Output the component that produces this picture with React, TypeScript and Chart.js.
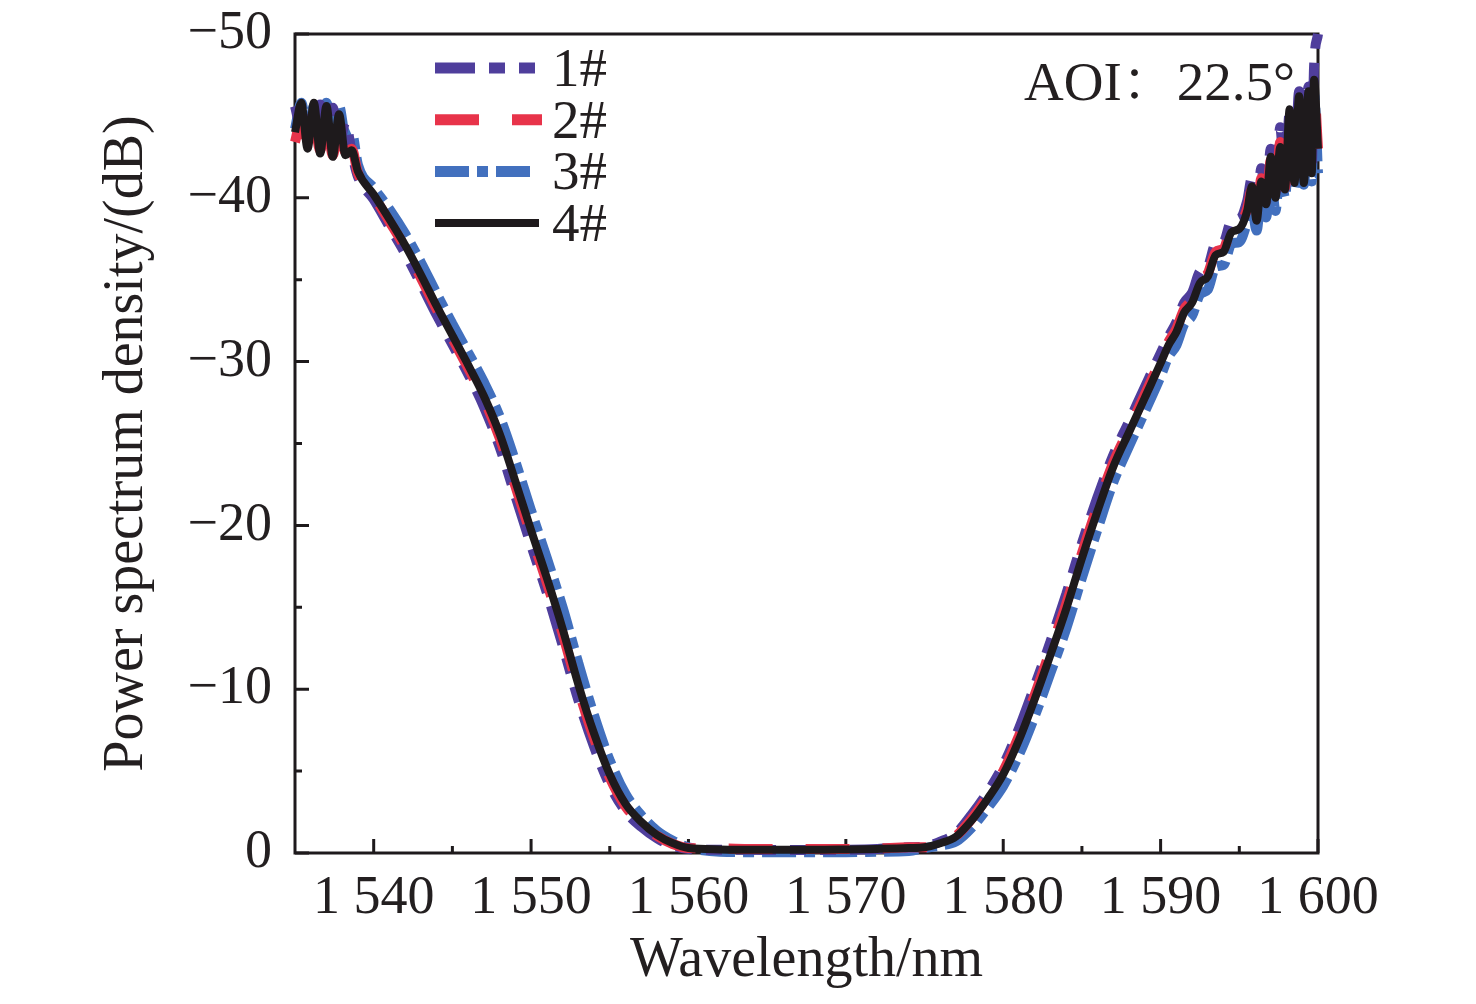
import React, { useEffect, useRef } from 'react';
import { Chart, registerables } from 'chart.js';

Chart.register(...registerables);

// ---------------- data ----------------
const wavelengths = [
  1535.0, 1535.4, 1535.8, 1536.2, 1536.6, 1537.0, 1537.4, 1537.8, 1538.2, 1538.6,
  1539, 1540, 1541, 1542, 1543, 1544, 1545, 1546, 1547, 1548, 1549, 1550,
  1551, 1552, 1553, 1554, 1555, 1556, 1557, 1558, 1559, 1560,
  1562, 1564, 1566, 1568, 1570, 1572, 1574,
  1575, 1576, 1577, 1578, 1579, 1580, 1581, 1582, 1583, 1584, 1585,
  1586, 1587, 1588, 1589, 1590, 1590.5, 1591, 1591.5, 1592, 1592.5, 1593, 1593.5,
  1594, 1594.5, 1595, 1595.5,
  1595.8, 1596.1, 1596.4, 1596.7, 1597.0, 1597.3, 1597.6, 1597.9, 1598.2,
  1598.5, 1598.8, 1599.1, 1599.4, 1599.6, 1599.75, 1600.0,
];

const sample1 = [
  -45.6, -44.2, -45.5, -43.4, -45.7, -43.0, -45.5, -43.2, -44.6, -42.8,
  -41.3, -39.9, -38.25, -36.6, -34.75, -32.85, -31.05, -29.25, -27.25, -24.8, -21.8, -18.8,
  -15.9, -12.7, -9.35, -6.5, -4.15, -2.55, -1.6, -0.9, -0.45, -0.25,
  -0.2, -0.2, -0.18, -0.18, -0.2, -0.25, -0.35,
  -0.4, -0.7, -1.2, -2.35, -3.7, -5.35, -7.6, -10.2, -12.9, -15.8, -18.9,
  -21.75, -24.3, -26.35, -28.45, -30.5, -31.5, -32.4, -33.6, -34.2, -35.5, -35.8, -37.2,
  -37.3, -38.6, -38.7, -39.8,
  -41.2, -39.2, -41.8, -39.8, -43.0, -40.3, -44.3, -40.8, -45.2,
  -41.2, -46.5, -41.4, -46.8, -42.0, -48.0, -50.0,
];

const sample2 = [
  -43.4, -44.8, -43.2, -44.6, -42.9, -44.9, -42.6, -44.5, -42.8, -43.0,
  -41.5, -40.1, -38.55, -36.95, -35.1, -33.2, -31.4, -29.6, -27.7, -25.35, -22.4, -19.4,
  -16.5, -13.4, -10.0, -7.0, -4.6, -2.85, -1.8, -1.05, -0.55, -0.3,
  -0.28, -0.25, -0.25, -0.25, -0.25, -0.28, -0.35,
  -0.35, -0.65, -1.05, -2.1, -3.45, -5.0, -7.15, -9.65, -12.4, -15.2, -18.3,
  -21.2, -23.85, -25.9, -28.0, -30.1, -31.2, -32.0, -33.2, -33.8, -35.0, -35.4, -36.7,
  -36.9, -38.1, -38.3, -39.35,
  -40.5, -38.8, -41.2, -39.5, -42.3, -40.0, -43.4, -40.6, -44.8,
  -41.0, -45.8, -41.2, -46.3, -42.0, -46.5, -43.0,
];

const sample3 = [
  -44.2, -45.8, -43.8, -45.6, -43.5, -45.8, -43.4, -45.6, -43.8, -44.0,
  -42.0, -40.6, -39.3, -37.8, -36.05, -34.15, -32.3, -30.55, -28.75, -26.65, -23.9, -20.9,
  -18.0, -15.0, -11.6, -8.4, -5.65, -3.6, -2.3, -1.35, -0.75, -0.35,
  -0.08, -0.05, -0.05, -0.05, -0.05, -0.08, -0.12,
  -0.3, -0.45, -0.7, -1.55, -2.75, -4.1, -6.0, -8.35, -11.0, -13.7, -16.8,
  -19.8, -22.65, -24.85, -26.95, -29.1, -30.3, -31.0, -32.3, -32.8, -34.1, -34.4, -35.8,
  -35.9, -37.2, -37.3, -38.5,
  -39.4, -38.0, -40.2, -38.8, -41.2, -39.2, -42.2, -40.0, -43.6,
  -40.6, -44.5, -40.8, -45.2, -41.0, -46.3, -41.5,
];

const sample4 = [
  -44.0, -45.8, -43.0, -45.8, -42.7, -45.6, -42.5, -45.1, -42.6, -42.9,
  -41.6, -40.2, -38.7, -37.1, -35.3, -33.4, -31.6, -29.8, -27.9, -25.6, -22.7, -19.7,
  -16.8, -13.7, -10.3, -7.3, -4.8, -3.0, -1.9, -1.1, -0.6, -0.3,
  -0.22, -0.2, -0.2, -0.2, -0.22, -0.25, -0.3,
  -0.35, -0.6, -1.0, -2.0, -3.3, -4.8, -6.9, -9.4, -12.1, -14.9, -18.0,
  -20.9, -23.6, -25.7, -27.8, -29.9, -31.0, -31.8, -33.0, -33.6, -34.8, -35.2, -36.5,
  -36.7, -37.9, -38.1, -39.2,
  -40.7, -38.6, -41.0, -39.6, -42.5, -40.0, -43.1, -40.5, -45.4,
  -40.9, -46.2, -40.9, -46.5, -41.5, -47.2, -43.0,
];

const seriesLabels = ['1#', '2#', '3#', '4#'];
const xTicks = [1540, 1550, 1560, 1570, 1580, 1590, 1600];
const xMinorTicks = [1545, 1555, 1565, 1575, 1585, 1595];
const yTicks = [0, -10, -20, -30, -40, -50];
const yMinorTicks = [-5, -15, -25, -35, -45];
const xTitle = 'Wavelength/nm';
const yTitle = 'Power spectrum density/(dB)';
const annotationText = 'AOI：22.5°';

// ---------------- styles ----------------
const FONT_FAMILY = '"Liberation Serif", "Times New Roman", "Noto Serif CJK SC", "Noto Sans CJK SC", serif';
const TEXT = '#231f20';
const AXIS = '#1e1a1c';
const COLORS = ['#4f3e9c', '#e8334a', '#4270be', '#1e1a1c'];
const DASHES: number[][] = [[40, 14, 16, 14, 16, 14], [44, 33], [34, 8, 11, 8], []];
const WIDTHS = [10, 10, 10, 8];
const LEGEND_WIDTHS = [11, 11, 11, 8];
const LEGEND_LENGTHS = [101, 107, 95, 104];
const ORDERS = [3, 2, 4, 1];

const fmtX = (v: number) => {
  const s = String(Math.round(v));
  return s.length > 3 ? s.slice(0, s.length - 3) + ' ' + s.slice(s.length - 3) : s;
};
const fmtY = (v: number) => (v < 0 ? '\u2212' + Math.abs(v) : String(v));

const framePlugin = {
  id: 'frameTicks',
  beforeDatasetsDraw(chart: any) {
    const { ctx, chartArea } = chart;
    const { left, right, top, bottom } = chartArea;
    const xs = chart.scales.x;
    const ys = chart.scales.y;
    ctx.save();
    ctx.strokeStyle = AXIS;
    ctx.lineWidth = 3;
    ctx.lineCap = 'butt';
    ctx.strokeRect(left, top, right - left, bottom - top);
    ctx.beginPath();
    xTicks.forEach((v) => {
      const p = xs.getPixelForValue(v);
      ctx.moveTo(p, bottom);
      ctx.lineTo(p, bottom - 14);
    });
    xMinorTicks.forEach((v) => {
      const p = xs.getPixelForValue(v);
      ctx.moveTo(p, bottom);
      ctx.lineTo(p, bottom - 7);
    });
    yTicks.forEach((v) => {
      const p = ys.getPixelForValue(v);
      ctx.moveTo(left, p);
      ctx.lineTo(left + 14, p);
    });
    yMinorTicks.forEach((v) => {
      const p = ys.getPixelForValue(v);
      ctx.moveTo(left, p);
      ctx.lineTo(left + 7, p);
    });
    ctx.stroke();
    ctx.restore();
  },
};

const legendPlugin = {
  id: 'customLegend',
  afterDraw(chart: any) {
    const { ctx, chartArea } = chart;
    const { left, right, top } = chartArea;
    ctx.save();
    seriesLabels.forEach((label, i) => {
      const y = top + 34 + i * 51.7;
      const x0 = left + 140;
      ctx.beginPath();
      ctx.setLineDash(DASHES[i]);
      ctx.lineCap = 'butt';
      ctx.strokeStyle = COLORS[i];
      ctx.lineWidth = LEGEND_WIDTHS[i];
      ctx.moveTo(x0, y);
      ctx.lineTo(x0 + LEGEND_LENGTHS[i], y);
      ctx.stroke();
      ctx.setLineDash([]);
      ctx.fillStyle = TEXT;
      ctx.font = `55px ${FONT_FAMILY}`;
      ctx.textAlign = 'left';
      ctx.textBaseline = 'alphabetic';
      ctx.fillText(label, left + 257, y + 18);
    });
    ctx.font = `55px ${FONT_FAMILY}`;
    ctx.textAlign = 'right';
    ctx.textBaseline = 'alphabetic';
    ctx.fillStyle = TEXT;
    ctx.fillText(annotationText, right - 23, top + 66);
    ctx.restore();
  },
};

const zeroPadding = (s: any) => {
  s.paddingTop = 0;
  s.paddingBottom = 0;
  s.paddingLeft = 0;
  s.paddingRight = 0;
};

export default function App() {
  const ref = useRef<HTMLCanvasElement | null>(null);

  useEffect(() => {
    if (!ref.current) return;
    const allSeries = [sample1, sample2, sample3, sample4];
    const datasets = allSeries.map((vals, i) => ({
      label: seriesLabels[i],
      data: wavelengths.map((w, k) => ({ x: w, y: vals[k] })),
      borderColor: COLORS[i],
      backgroundColor: COLORS[i],
      borderWidth: WIDTHS[i],
      borderDash: DASHES[i],
      borderCapStyle: 'butt' as const,
      borderJoinStyle: (i === 3 ? 'round' : 'bevel') as any,
      pointRadius: 0,
      fill: false,
      cubicInterpolationMode: 'monotone' as const,
      order: ORDERS[i],
      clip: false as any,
    }));

    const tickFont = { family: FONT_FAMILY, size: 54 };
    const titleFont = { family: FONT_FAMILY, size: 56 };

    const chart = new Chart(ref.current, {
      type: 'line',
      data: { datasets },
      plugins: [framePlugin, legendPlugin],
      options: {
        animation: false,
        responsive: true,
        maintainAspectRatio: false,
        devicePixelRatio: 1,
        layout: { padding: { top: 34, right: 158, bottom: 0, left: 0 } },
        plugins: {
          legend: { display: false },
          tooltip: { enabled: false },
        },
        scales: {
          x: {
            type: 'linear',
            min: 1535,
            max: 1600,
            afterBuildTicks: (s: any) => {
              s.ticks = xTicks.map((v) => ({ value: v }));
            },
            afterFit: (s: any) => {
              s.height = 151;
              zeroPadding(s);
            },
            grid: { display: false },
            border: { display: false },
            ticks: {
              padding: 5,
              color: TEXT,
              font: tickFont,
              maxRotation: 0,
              autoSkip: false,
              callback: (v: any) => fmtX(Number(v)),
            },
            title: {
              display: true,
              text: xTitle,
              color: TEXT,
              font: titleFont,
              padding: { top: 0, bottom: 9 },
            },
          },
          y: {
            type: 'linear',
            min: -50,
            max: 0,
            reverse: true,
            afterBuildTicks: (s: any) => {
              s.ticks = yTicks.map((v) => ({ value: v }));
            },
            afterFit: (s: any) => {
              s.width = 295;
              zeroPadding(s);
            },
            grid: { display: false },
            border: { display: false },
            ticks: {
              padding: 15,
              color: TEXT,
              font: tickFont,
              autoSkip: false,
              callback: (v: any) => fmtY(Number(v)),
            },
            title: {
              display: true,
              text: yTitle,
              color: TEXT,
              font: titleFont,
              padding: { top: 94, bottom: 0 },
            },
          },
        },
      } as any,
    });
    return () => chart.destroy();
  }, []);

  return (
    <div
      style={{
        position: 'fixed',
        left: 0,
        top: 0,
        width: 1476,
        height: 1004,
        background: '#ffffff',
      }}
    >
      <canvas ref={ref} />
    </div>
  );
}
